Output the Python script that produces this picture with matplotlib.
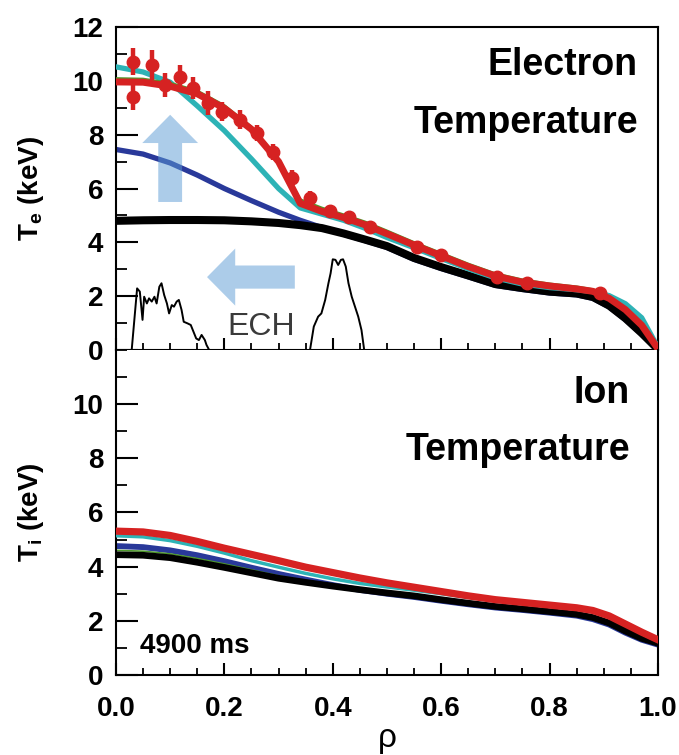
import matplotlib
matplotlib.use('Agg')
import matplotlib.pyplot as plt
from matplotlib.patches import FancyArrow
from matplotlib.ticker import MultipleLocator, FormatStrFormatter

plt.rcParams['font.family'] = ['Liberation Sans', 'DejaVu Sans']
plt.rcParams['font.weight'] = 'bold'
plt.rcParams['axes.labelweight'] = 'bold'
plt.rcParams['mathtext.fontset'] = 'custom'
plt.rcParams['mathtext.rm'] = 'Liberation Sans:bold'
plt.rcParams['mathtext.it'] = 'Liberation Sans:bold'

RED = '#d62222'
CYAN = '#2db3b6'
BLUE = '#29399a'
GREEN = '#4f9a2c'
BLACK = '#000000'

# ---- electron temperature profiles (keV) ----
rhoTe = [0, .05, .1, .15, .2, .25, .3, .34, .38, .42, .46, .5, .55, .6, .65,
         .7, .75, .8, .85, .88, .91, .94, .97, 1.0]
teBlack = [4.80, 4.82, 4.83, 4.83, 4.82, 4.78, 4.72, 4.64, 4.53, 4.33, 4.10, 3.86,
           3.42, 3.08, 2.77, 2.45, 2.30, 2.17, 2.10, 1.97, 1.65, 1.18, 0.63, 0.03]
teBlue = [7.45, 7.28, 6.95, 6.50, 6.00, 5.55, 5.12, 4.82, 4.55, 4.30, 4.06, 3.81,
          3.37, 3.03, 2.72, 2.40, 2.25, 2.12, 2.05, 1.92, 1.60, 1.13, 0.59, 0.02]
teCyan = [10.52, 10.33, 9.95, 9.07, 8.15, 7.10, 6.00, 5.28, 5.05, 4.82, 4.52, 4.18,
          3.80, 3.40, 3.02, 2.68, 2.45, 2.32, 2.24, 2.17, 2.02, 1.72, 1.20, 0.10]
teGreen = [10.10, 10.08, 9.93, 9.64, 9.10, 8.30, 7.10, 5.60, 5.29, 5.04, 4.77, 4.44,
           4.01, 3.61, 3.21, 2.85, 2.62, 2.47, 2.36, 2.26, 1.99, 1.56, 0.96, 0.05]
teRed = [9.96, 9.95, 9.80, 9.52, 8.98, 8.20, 7.00, 5.45, 5.15, 4.92, 4.65, 4.32,
         3.90, 3.50, 3.10, 2.75, 2.52, 2.38, 2.27, 2.18, 1.92, 1.50, 0.92, 0.05]

# measured Te points with error bars
ptsRho = [.031, .031, .066, .090, .118, .142, .170, .196, .229, .260, .290, .325,
          .358, .395, .430, .469, .555, .600, .703, .758, .893]
ptsTe = [10.71, 9.41, 10.60, 9.85, 10.15, 9.74, 9.18, 8.85, 8.55, 8.07, 7.36, 6.39,
         5.65, 5.17, 4.94, 4.57, 3.83, 3.53, 2.71, 2.49, 2.12]
ptsErr = [0.50, 0.50, 0.55, 0.45, 0.45, 0.40, 0.45, 0.35, 0.35, 0.30, 0.30, 0.30,
          0.25, 0.20, 0.15, 0.15, 0.15, 0.15, 0.12, 0.12, 0.10]

# ECH deposition trace (arbitrary units drawn on Te scale)
echRho1 = [.029, .039, .044, .049, .052, .057, .061, .066, .071, .075, .080, .084,
           .089, .094, .098, .103, .107, .112, .116, .121, .125, .132, .138, .143,
           .148, .153, .158, .164, .167, .172]
echVal1 = [0, 2.29, 2.17, 1.12, 1.98, 1.73, 1.92, 1.80, 1.98, 1.73, 2.35, 2.48,
           2.04, 1.73, 1.36, 1.67, 1.61, 1.80, 1.86, 1.49, 1.05, 0.99, 0.93, 0.68,
           0.43, 0.37, 0.56, 0.37, 0.19, 0]
echRho2 = [.358, .365, .373, .379, .386, .392, .396, .400, .405, .410, .415, .419,
           .424, .429, .435, .441, .447, .453, .458]
echVal2 = [0, 0.87, 1.24, 1.36, 1.86, 2.48, 2.85, 3.37, 3.35, 3.16, 3.35, 3.37,
           3.10, 2.48, 1.98, 1.61, 1.24, 0.74, 0]

# ---- ion temperature profiles (keV) ----
rhoTi = [0, .05, .1, .15, .2, .25, .3, .35, .4, .45, .5, .55, .6, .65, .7, .75,
         .8, .85, .88, .91, .94, .97, 1.0]
tiBlack = [4.44, 4.42, 4.33, 4.16, 3.97, 3.77, 3.57, 3.42, 3.28, 3.15, 3.03, 2.92,
           2.78, 2.65, 2.53, 2.44, 2.34, 2.24, 2.12, 1.92, 1.62, 1.35, 1.17]
tiBlue = [4.76, 4.72, 4.60, 4.42, 4.20, 3.96, 3.73, 3.52, 3.32, 3.14, 3.00, 2.88,
          2.74, 2.61, 2.49, 2.40, 2.30, 2.19, 2.06, 1.86, 1.56, 1.30, 1.12]
tiGreen = [4.60, 4.57, 4.47, 4.30, 4.10, 3.88, 3.66, 3.48, 3.31, 3.16, 3.03, 2.92,
           2.78, 2.65, 2.53, 2.44, 2.34, 2.24, 2.12, 1.92, 1.62, 1.35, 1.17]
tiCyan = [5.14, 5.10, 4.96, 4.75, 4.50, 4.22, 3.98, 3.75, 3.55, 3.38, 3.25, 3.13,
          3.00, 2.86, 2.73, 2.63, 2.53, 2.43, 2.33, 2.13, 1.83, 1.53, 1.25]
tiRed = [5.31, 5.28, 5.15, 4.93, 4.68, 4.45, 4.22, 3.98, 3.78, 3.58, 3.40, 3.24,
         3.08, 2.92, 2.78, 2.68, 2.58, 2.48, 2.38, 2.18, 1.88, 1.58, 1.30]


fig = plt.figure(figsize=(6.79, 7.55), dpi=100)
ax1 = fig.add_axes([0.1708, 0.5364, 0.7982, 0.4278])
ax2 = fig.add_axes([0.1708, 0.1060, 0.7982, 0.4305])

### top panel: electron temperature
ax1.plot(rhoTe, teBlue, color=BLUE, lw=3.8, zorder=2)
ax1.plot(rhoTe, teBlack, color=BLACK, lw=5.8, zorder=3)
ax1.plot(rhoTe, teCyan, color=CYAN, lw=3.8, zorder=3)
ax1.plot(rhoTe, teGreen, color=GREEN, lw=1.5, zorder=3.5)
ax1.plot(rhoTe, teRed, color=RED, lw=5.0, zorder=4)
ax1.errorbar(ptsRho, ptsTe, yerr=ptsErr, fmt='o', color=RED, ms=9,
             elinewidth=3.2, capsize=0, zorder=5)
ax1.plot(echRho1, echVal1, color='black', lw=1.4, zorder=5)
ax1.plot(echRho2, echVal2, color='black', lw=1.4, zorder=5)

ax1.add_patch(FancyArrow(0.10, 5.5, 0, 3.24, width=0.044, head_width=0.103,
                         head_length=1.05, length_includes_head=True,
                         color='#5b9bd5', alpha=0.5, lw=0, zorder=6))
ax1.add_patch(FancyArrow(0.33, 2.71, -0.162, 0, width=0.86, head_width=2.12,
                         head_length=0.052, length_includes_head=True,
                         color='#5b9bd5', alpha=0.5, lw=0, zorder=6))
ax1.text(0.268, 0.56, 'ECH', fontsize=23, fontweight='normal', color='#3a3a3a',
         ha='center', va='baseline')

ax1.text(0.963, 0.851, 'Electron', transform=ax1.transAxes, fontsize=27,
         ha='right', va='baseline')
ax1.text(0.963, 0.672, 'Temperature', transform=ax1.transAxes, fontsize=27,
         ha='right', va='baseline')

ax1.set_xlim(0, 1)
ax1.set_ylim(0, 12)
ax1.set_yticks(range(0, 13, 2))
ax1.yaxis.set_minor_locator(MultipleLocator(1))
ax1.xaxis.set_major_locator(MultipleLocator(0.2))
ax1.xaxis.set_minor_locator(MultipleLocator(0.05))
ax1.set_xticklabels([])
ax1.set_ylabel(r'T$_{\mathregular{e}}$ (keV)', fontsize=20, fontweight='bold')

### bottom panel: ion temperature
ax2.plot(rhoTi, tiBlue, color=BLUE, lw=4.2, zorder=2)
ax2.plot(rhoTi, tiGreen, color=GREEN, lw=1.2, zorder=2)
ax2.plot(rhoTi, tiBlack, color=BLACK, lw=4.8, zorder=3)
ax2.plot(rhoTi, tiCyan, color=CYAN, lw=2.5, zorder=3)
ax2.plot(rhoTi, tiRed, color=RED, lw=5.2, zorder=4)

ax2.text(0.948, 0.837, 'Ion', transform=ax2.transAxes, fontsize=27,
         ha='right', va='baseline')
ax2.text(0.948, 0.662, 'Temperature', transform=ax2.transAxes, fontsize=27,
         ha='right', va='baseline')
ax2.text(0.044, 0.068, '4900 ms', transform=ax2.transAxes, fontsize=20,
         ha='left', va='baseline')

ax2.set_xlim(0, 1)
ax2.set_ylim(0, 12)
ax2.set_yticks(range(0, 11, 2))
ax2.yaxis.set_minor_locator(MultipleLocator(1))
ax2.xaxis.set_major_locator(MultipleLocator(0.2))
ax2.xaxis.set_minor_locator(MultipleLocator(0.05))
ax2.xaxis.set_major_formatter(FormatStrFormatter('%.1f'))
ax2.set_ylabel(r'T$_{\mathregular{i}}$ (keV)', fontsize=20, fontweight='bold')
ax2.set_xlabel('ρ', fontsize=24, fontweight='normal', labelpad=1)
ax2.spines['top'].set_visible(False)

for ax in (ax1, ax2):
    for s in ax.spines.values():
        s.set_linewidth(1.5)
    ax.tick_params(axis='y', which='major', direction='in', length=16, width=1.5,
                   labelsize=20, pad=9)
    ax.tick_params(axis='y', which='minor', direction='in', length=8, width=1.3)
    ax.tick_params(axis='x', which='major', direction='in', length=9, width=1.5,
                   labelsize=20, pad=15)
    ax.tick_params(axis='x', which='minor', direction='in', length=5, width=1.3)
    ax.yaxis.set_label_coords(-0.13, 0.5)

fig.savefig('out.png', dpi=100)
